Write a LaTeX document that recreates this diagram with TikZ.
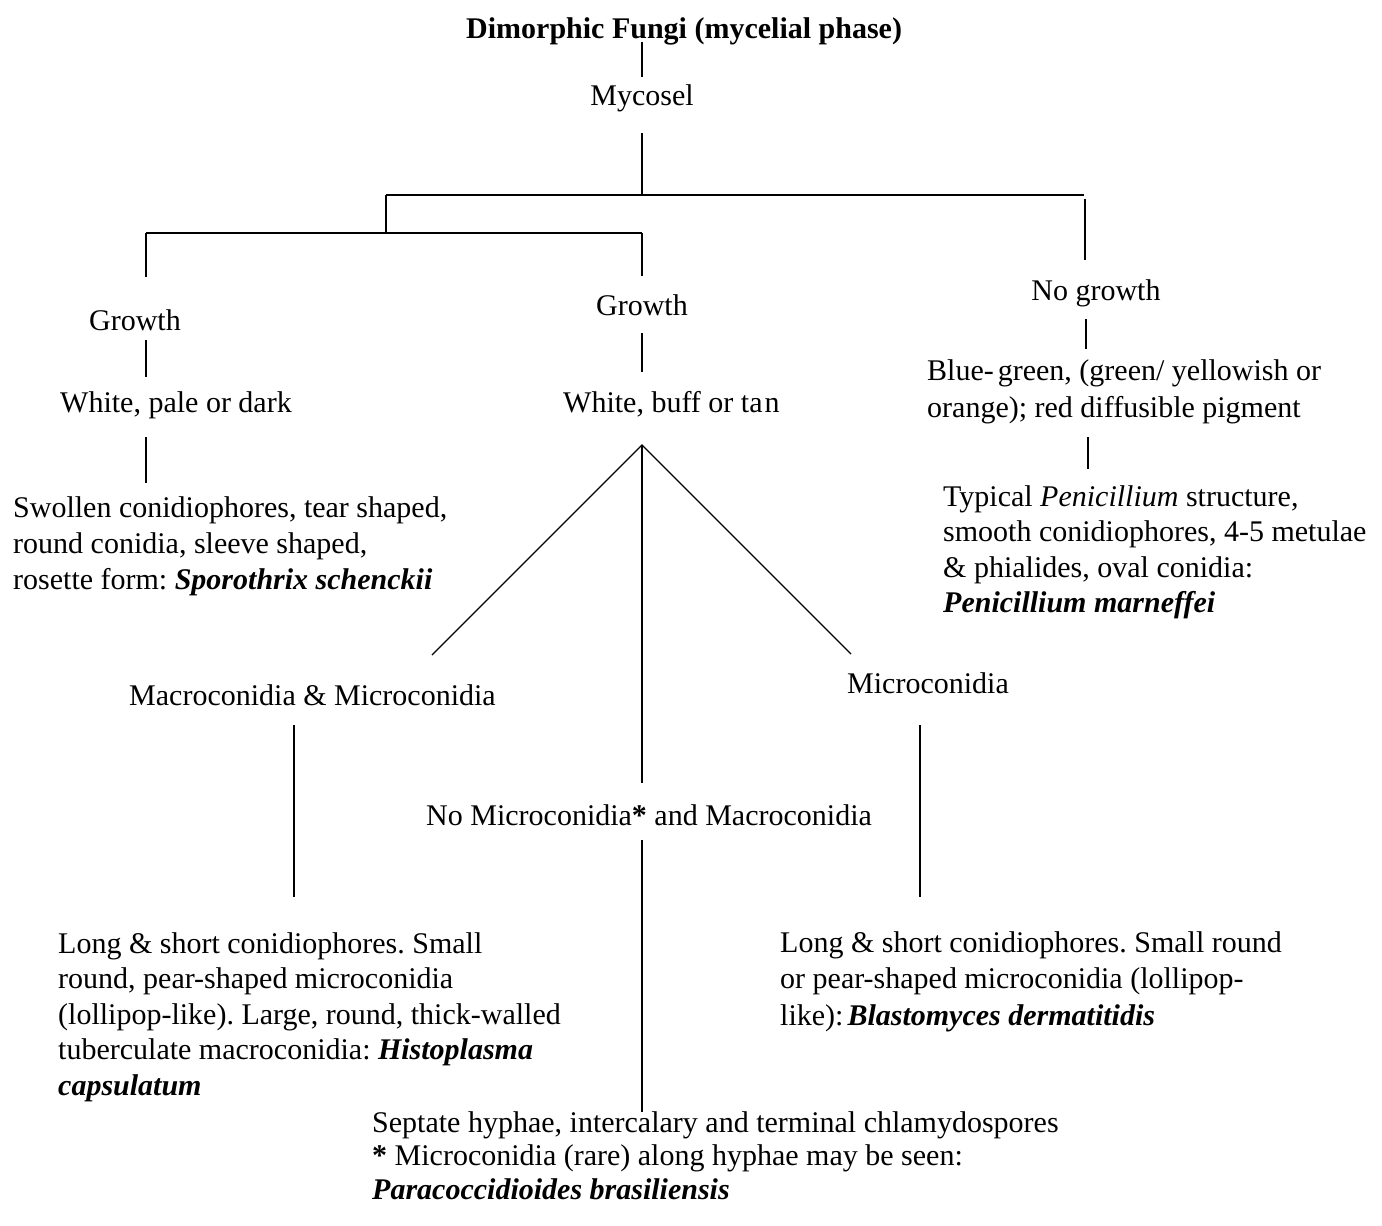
\documentclass[tikz,border=0pt]{standalone}
\usepackage{fontspec}
\setmainfont{Liberation Serif}
\frenchspacing
\newcommand{\fsz}[1]{\fontsize{30}{#1}\selectfont}
\newcommand{\spname}[1]{\textbf{\textit{#1}}}
\begin{document}
\begin{tikzpicture}[x=1pt,y=-1pt,
  lbl/.style={inner sep=0pt, anchor=base west, font=\fsz{36}},
  clbl/.style={inner sep=0pt, anchor=base, font=\fsz{36}},
  ln/.style={line width=1.6pt, black},
  hln/.style={line width=2.2pt, black},
  dln/.style={line width=1.3pt, black}]
\useasboundingbox[fill=white] (0,0) rectangle (1382,1226);

% text nodes
\node[lbl, font=\fsz{36}\bfseries] (title) at (466,38) {Dimorphic Fungi (mycelial phase)};
\node[clbl] (mycosel) at (642,105) {Mycosel};
\node[clbl] (growthL) at (135,330) {Growth};
\node[clbl] (growthM) at (642,315) {Growth};
\node[clbl] (nogrowth) at (1096,300) {No growth};
\node[lbl] (whiteL) at (60,412) {White, pale or dark};
\node[lbl] (whiteM) at (563,412) {White, buff or ta\kern2pt n};
\node[lbl, font=\fsz{37}] (blue) at (927,380) {\begin{tabular}[t]{@{}l@{}}Blue-\kern4pt green, (green/ yellowish or\\orange); red diffusible pigment\end{tabular}};
\node[lbl, font=\fsz{36}] (sporo) at (13,517) {\begin{tabular}[t]{@{}l@{}}Swollen conidiophores, tear shaped,\\round conidia, sleeve shaped,\\rosette form: \spname{Sporothrix schenckii}\end{tabular}};
\node[lbl, font=\fsz{35.5}] (typical) at (943,506) {\begin{tabular}[t]{@{}l@{}}Typical \textit{Penicillium} structure,\\smooth conidiophores, 4-5 metulae\\\& phialides, oval conidia:\\\spname{Penicillium marneffei}\end{tabular}};
\node[lbl] (macro) at (129,705) {Macroconidia \& Microconidia};
\node[lbl] (micro) at (847,693) {Microconidia};
\node[lbl] (nomicro) at (426,825) {No Microconidia\textbf{*} and Macroconidia};
\node[lbl, font=\fsz{35.5}] (longL) at (58,953) {\begin{tabular}[t]{@{}l@{}}Long \& short conidiophores. Small\\round, pear-shaped microconidia\\(lollipop-like). Large, round, thick-walled\\tuberculate macroconidia: \spname{Histoplasma}\\\spname{capsulatum}\end{tabular}};
\node[lbl, font=\fsz{36.5}] (longR) at (780,952) {\begin{tabular}[t]{@{}l@{}}Long \& short conidiophores. Small round\\or pear-shaped microconidia (lollipop-\\like):\kern4pt\spname{Blastomyces dermatitidis}\end{tabular}};
\node[lbl, font=\fsz{33.5}] (sept) at (372,1132) {\begin{tabular}[t]{@{}l@{}}Septate hyphae, intercalary and terminal chlamydospores\\\textbf{*} Microconidia (rare) along hyphae may be seen:\\\spname{Paracoccidioides brasiliensis}\end{tabular}};

% connector end points
\coordinate (c1a) at (642,42);   \coordinate (c1b) at (642,77);
\coordinate (c2a) at (642,133);  \coordinate (c2b) at (642,195);
\coordinate (hL) at (386,195);   \coordinate (hR) at (1084,195);
\coordinate (c3b) at (386,233);
\coordinate (h2L) at (146,233);  \coordinate (h2R) at (642,233);
\coordinate (c4b) at (146,277);  \coordinate (c5b) at (642,276);
\coordinate (c6a) at (1085,199); \coordinate (c6b) at (1085,260);
\coordinate (c7a) at (146,340);  \coordinate (c7b) at (146,377);
\coordinate (c8a) at (642,333);  \coordinate (c8b) at (642,372);
\coordinate (c9a) at (1086,319); \coordinate (c9b) at (1086,349);
\coordinate (c10a) at (146,437); \coordinate (c10b) at (146,483);
\coordinate (c11a) at (1088,437);\coordinate (c11b) at (1088,469);
\coordinate (apex) at (642,445);
\coordinate (dl) at (432,655);   \coordinate (dr) at (851,654);
\coordinate (dm) at (642,783);
\coordinate (c12a) at (294,725); \coordinate (c12b) at (294,897);
\coordinate (c13a) at (920,725); \coordinate (c13b) at (920,897);
\coordinate (c14a) at (642,840); \coordinate (c14b) at (642,1112);

% connectors
\draw[ln] (c1a) -- (c1b);
\draw[ln] (c2a) -- (c2b);
\draw[hln] (hL) -- (hR);
\draw[ln] (hL) -- (c3b);
\draw[hln] (h2L) -- (h2R);
\draw[ln] (h2L) -- (c4b);
\draw[ln] (h2R) -- (c5b);
\draw[ln] (c6a) -- (c6b);
\draw[ln] (c7a) -- (c7b);
\draw[ln] (c8a) -- (c8b);
\draw[ln] (c9a) -- (c9b);
\draw[ln] (c10a) -- (c10b);
\draw[ln] (c11a) -- (c11b);
\draw[dln] (dl) -- (apex) -- (dr);
\draw[ln] (apex) -- (dm);
\draw[ln] (c12a) -- (c12b);
\draw[ln] (c13a) -- (c13b);
\draw[ln] (c14a) -- (c14b);
\end{tikzpicture}
\end{document}
